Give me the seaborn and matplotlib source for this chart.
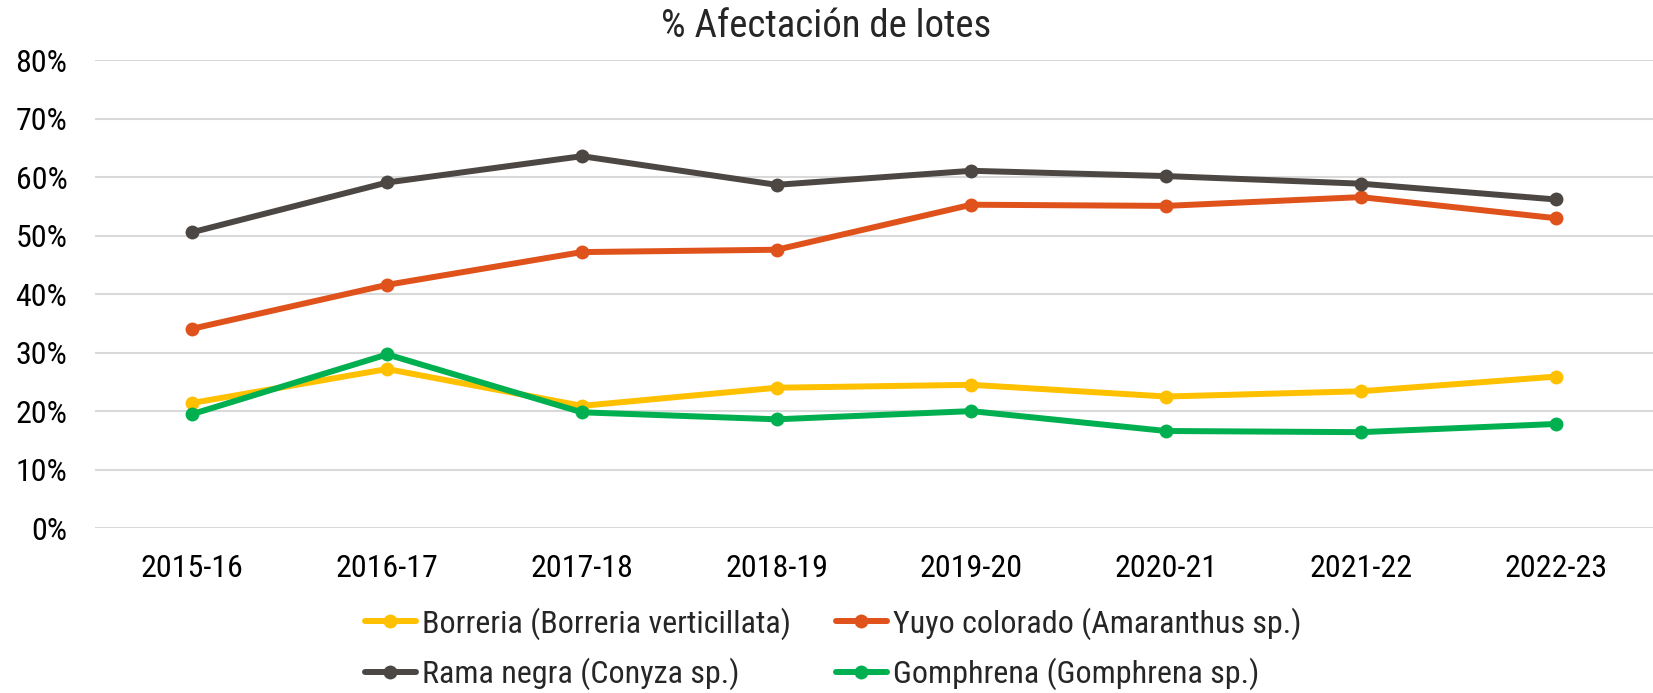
import matplotlib
matplotlib.use("Agg")
import matplotlib.pyplot as plt
from matplotlib import font_manager
import seaborn as sns
import pandas as pd

seasons = ["2015-16", "2016-17", "2017-18", "2018-19", "2019-20", "2020-21", "2021-22", "2022-23"]
borreria = [21.4, 27.2, 20.9, 24.0, 24.5, 22.5, 23.4, 25.9]
yuyo = [34.1, 41.6, 47.2, 47.6, 55.3, 55.1, 56.6, 53.0]
rama = [50.6, 59.1, 63.6, 58.7, 61.1, 60.2, 58.9, 56.2]
gomphrena = [19.5, 29.7, 19.8, 18.6, 20.0, 16.6, 16.4, 17.8]
series_names = ["Borreria (Borreria verticillata)", "Yuyo colorado (Amaranthus sp.)",
                "Rama negra (Conyza sp.)", "Gomphrena (Gomphrena sp.)"]
colors = ["#FFC000", "#E0521B", "#4D4743", "#00B050"]
yticks = [0, 10, 20, 30, 40, 50, 60, 70, 80]
title = "% Afectación de lotes"

sns.set_theme(style="white")
names = {f.name for f in font_manager.fontManager.ttflist}
cands = [n for n in names if ("Condensed" in n or "Narrow" in n)]
pref = None
for p in ["Roboto Condensed", "Liberation Sans Narrow", "DejaVu Sans Condensed"]:
    if p in names:
        pref = p
        break
if pref is None and cands:
    pref = sorted(cands)[0]
fam = [pref] if pref else []
fam += ["Roboto", "DejaVu Sans"]
plt.rcParams["font.family"] = fam
if pref == "DejaVu Sans" or pref is None:
    plt.rcParams["font.stretch"] = "condensed"

rows = []
for name, vals in zip(series_names, [borreria, yuyo, rama, gomphrena]):
    for s, v in zip(seasons, vals):
        rows.append({"season": s, "value": v, "series": name})
df = pd.DataFrame(rows)

fig = plt.figure(figsize=(16.53, 6.93), dpi=100)
ax = fig.add_axes([0.0575, 0.238, 0.9425, 0.675])
sns.lineplot(data=df, x="season", y="value", hue="series", hue_order=series_names,
             palette=colors, marker="o", markersize=10, markeredgewidth=0,
             linewidth=4.3, sort=False, ax=ax, legend=True)

ax.set_xlim(-0.5, len(seasons) - 0.5)
ax.set_ylim(0, 80)
ax.set_yticks(yticks)
ax.set_yticklabels([f"{t}%" for t in yticks])
ax.yaxis.grid(True, color="#D9D9D9", linewidth=1.5)
ax.set_axisbelow(True)
for sp in ax.spines.values():
    sp.set_visible(False)
ax.tick_params(axis="both", length=0, labelsize=23, colors="black")
ax.tick_params(axis="x", pad=19)
ax.tick_params(axis="y", pad=20)
ax.set_xlabel("")
ax.set_ylabel("")
fig.text(0.5, 0.962, title, ha="center", va="center", fontsize=28)

h, l = ax.get_legend_handles_labels()
order = [0, 2, 1, 3]
ax.legend([h[i] for i in order], [l[i] for i in order], ncol=2, frameon=False,
          fontsize=23, loc="center", bbox_to_anchor=(0.504, 0.064), bbox_transform=fig.transFigure,
          handlelength=1.6, handletextpad=0.2, columnspacing=1.4, labelspacing=0.55,
          borderpad=0.2)

fig.savefig("out.png", dpi=100)
